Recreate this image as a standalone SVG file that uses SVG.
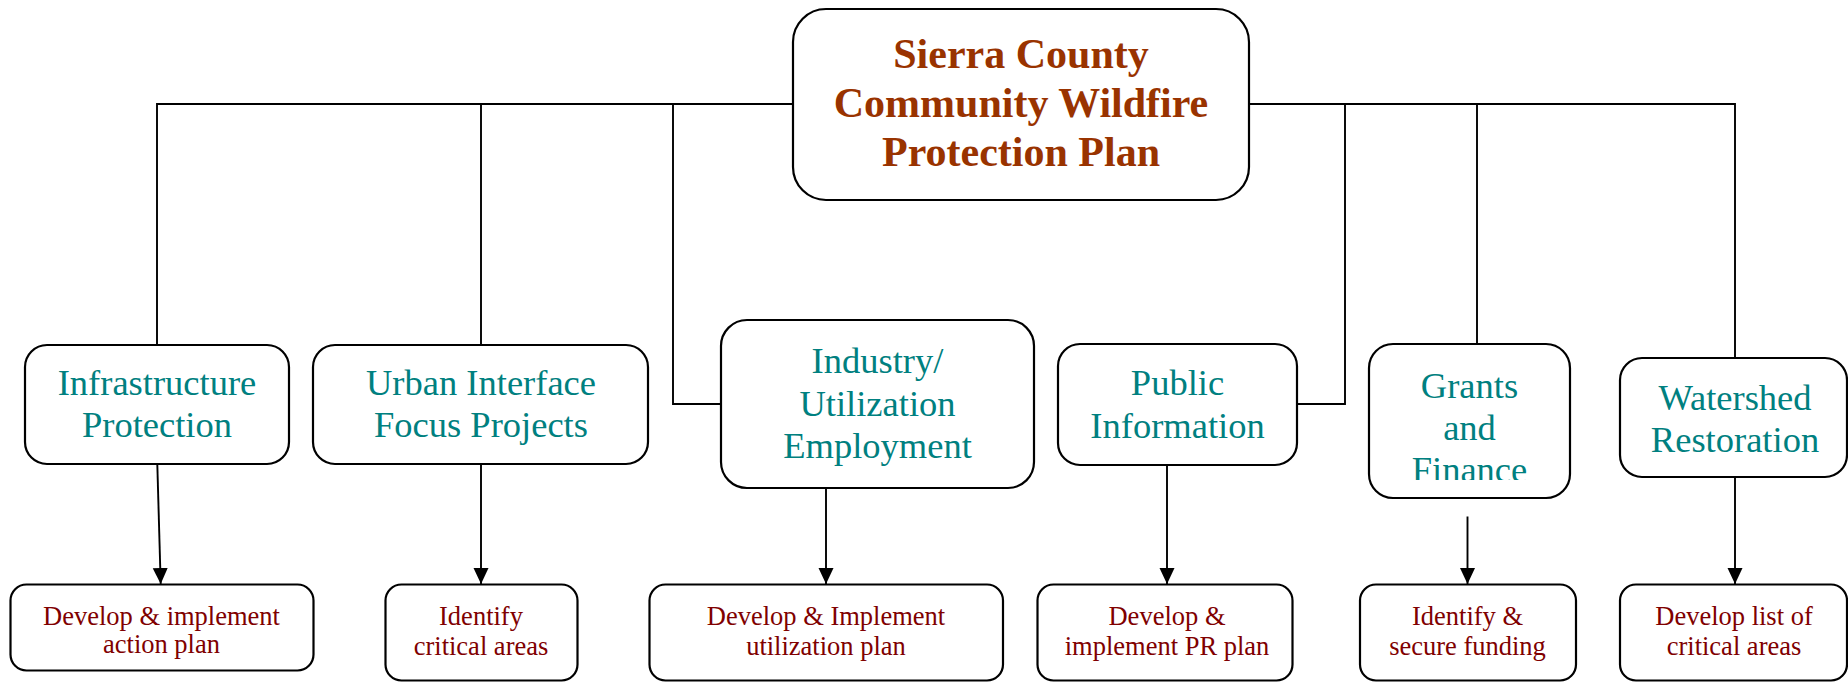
<svg xmlns="http://www.w3.org/2000/svg" width="1848" height="682" viewBox="0 0 1848 682">
  <style>
    .box { fill: #ffffff; stroke: #000000; stroke-width: 2.2; }
    .link { fill: none; stroke: #000000; stroke-width: 1.9; }
    .title { font-family: "Liberation Serif", "Times New Roman", serif; font-weight: bold; font-size: 42px; fill: #993300; text-anchor: middle; }
    .area { font-family: "Liberation Serif", "Times New Roman", serif; font-size: 36.5px; fill: #008080; text-anchor: middle; }
    .task { font-family: "Liberation Serif", "Times New Roman", serif; font-size: 26.5px; fill: #800000; text-anchor: middle; }
  </style>
  <defs>
    <marker id="arrow" markerUnits="userSpaceOnUse" markerWidth="16" markerHeight="16" refX="16" refY="7.5" orient="auto">
      <path d="M0,0 L16,7.5 L0,15 Z" fill="#000000"/>
    </marker>
    <clipPath id="grants-clip">
      <rect x="1369" y="344" width="201" height="136"/>
    </clipPath>
  </defs>
  <rect width="1848" height="682" fill="#ffffff"/>

  <!-- connectors -->
  <g id="connectors">
    <path class="link" d="M793,104 H157 V345"/>
    <path class="link" d="M481,104 V345"/>
    <path class="link" d="M673,104 V404 H721"/>
    <path class="link" d="M1249,104 H1735 V358"/>
    <path class="link" d="M1477,104 V344"/>
    <path class="link" d="M1345,104 V404 H1297"/>
    <path class="link" d="M157.3,464 L160.7,584" marker-end="url(#arrow)"/>
    <path class="link" d="M481,464 V584" marker-end="url(#arrow)"/>
    <path class="link" d="M826,488 V584" marker-end="url(#arrow)"/>
    <path class="link" d="M1167,465 V584" marker-end="url(#arrow)"/>
    <path class="link" d="M1467.5,516.5 V584" marker-end="url(#arrow)"/>
    <path class="link" d="M1735,477 V584" marker-end="url(#arrow)"/>
  </g>

  <!-- root -->
  <g id="plan">
    <rect class="box" x="793" y="9" width="456" height="191" rx="33"/>
    <text class="title" x="1021" y="68">Sierra County</text>
    <text class="title" x="1021" y="117">Community Wildfire</text>
    <text class="title" x="1021" y="166">Protection Plan</text>
  </g>

  <!-- focus areas -->
  <g id="infrastructure">
    <rect class="box" x="25" y="345" width="264" height="119" rx="22"/>
    <text class="area" x="157" y="395">Infrastructure</text>
    <text class="area" x="157" y="437">Protection</text>
  </g>
  <g id="urban-interface">
    <rect class="box" x="313" y="345" width="335" height="119" rx="22"/>
    <text class="area" x="481" y="395">Urban Interface</text>
    <text class="area" x="481" y="437">Focus Projects</text>
  </g>
  <g id="industry">
    <rect class="box" x="721" y="320" width="313" height="168" rx="26"/>
    <text class="area" x="877.5" y="373">Industry/</text>
    <text class="area" x="877.5" y="416">Utilization</text>
    <text class="area" x="877.5" y="458">Employment</text>
  </g>
  <g id="public-information">
    <rect class="box" x="1058" y="344" width="239" height="121" rx="22"/>
    <text class="area" x="1177.5" y="395">Public</text>
    <text class="area" x="1177.5" y="438">Information</text>
  </g>
  <g id="grants">
    <rect class="box" x="1369" y="344" width="201" height="154" rx="24"/>
    <g clip-path="url(#grants-clip)">
      <text class="area" x="1469.5" y="398">Grants</text>
      <text class="area" x="1469.5" y="440">and</text>
      <text class="area" x="1469.5" y="482">Finance</text>
    </g>
  </g>
  <g id="watershed">
    <rect class="box" x="1620" y="358" width="227" height="119" rx="22"/>
    <text class="area" x="1735" y="410">Watershed</text>
    <text class="area" x="1735" y="452">Restoration</text>
  </g>

  <!-- actions -->
  <g id="action-plan">
    <rect class="box" x="10.5" y="584.5" width="303" height="86" rx="16"/>
    <text class="task" x="161.5" y="625">Develop &amp; implement</text>
    <text class="task" x="161.5" y="653">action plan</text>
  </g>
  <g id="critical-areas">
    <rect class="box" x="385.5" y="584.5" width="192" height="96" rx="16"/>
    <text class="task" x="481" y="625">Identify</text>
    <text class="task" x="481" y="655">critical areas</text>
  </g>
  <g id="utilization-plan">
    <rect class="box" x="649.5" y="584.5" width="353.5" height="96" rx="16"/>
    <text class="task" x="826" y="625">Develop &amp; Implement</text>
    <text class="task" x="826" y="655">utilization plan</text>
  </g>
  <g id="pr-plan">
    <rect class="box" x="1037.5" y="584.5" width="255" height="96" rx="16"/>
    <text class="task" x="1167" y="625">Develop &amp;</text>
    <text class="task" x="1167" y="655">implement PR plan</text>
  </g>
  <g id="funding">
    <rect class="box" x="1360" y="584.5" width="216" height="96" rx="16"/>
    <text class="task" x="1467.5" y="625">Identify &amp;</text>
    <text class="task" x="1467.5" y="655">secure funding</text>
  </g>
  <g id="critical-list">
    <rect class="box" x="1620" y="584.5" width="227" height="96" rx="16"/>
    <text class="task" x="1734" y="625">Develop list of</text>
    <text class="task" x="1734" y="655">critical areas</text>
  </g>
</svg>
